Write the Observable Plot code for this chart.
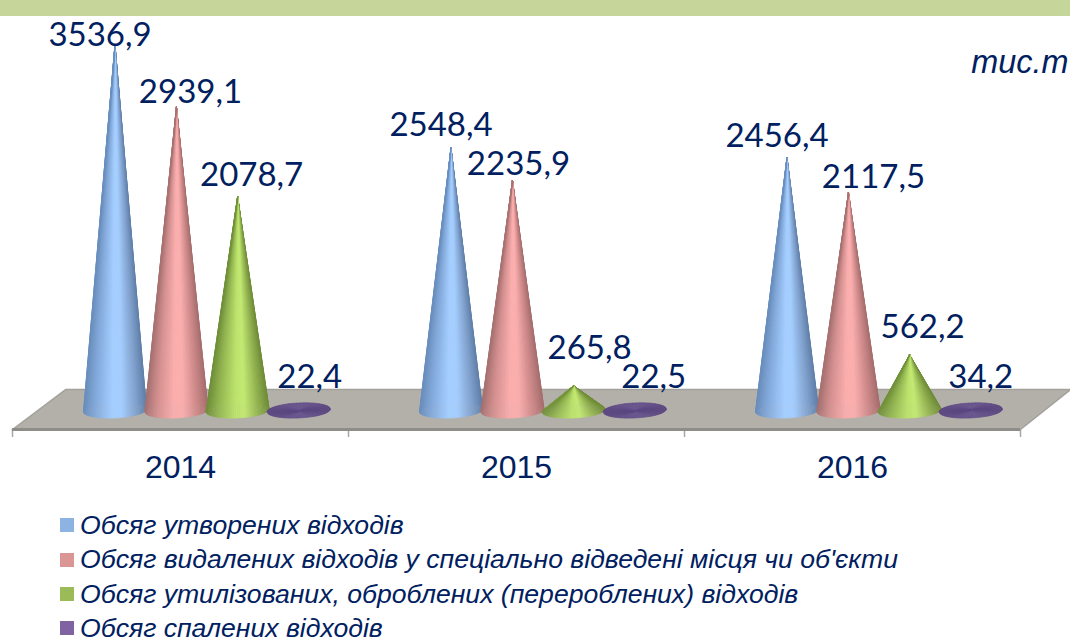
<!DOCTYPE html>
<html lang="uk">
<head>
<meta charset="utf-8">
<script src="https://cdn.jsdelivr.net/npm/d3@7"></script>
<script src="https://cdn.jsdelivr.net/npm/@observablehq/plot@0.6"></script>
<style>
html,body{margin:0;padding:0;background:#fff;width:1070px;height:640px;overflow:hidden;position:relative}
#band{position:absolute;left:0;top:0;width:1070px;height:16px;background:#c6d69a}
#chart{position:relative}
#chart svg{display:block}
#legend{margin:8px 0 0 60px;font:italic 26.6px "Liberation Sans",Arial,sans-serif;color:#002060}
.row{height:34.4px;line-height:34.4px;white-space:nowrap;display:flex;align-items:center}
.sw{width:14px;height:14px;margin-right:6px;flex:none}
</style>
</head>
<body>
<div id="band"></div>
<div id="chart"></div>
<div id="legend"></div>
<script>
const years = ["2014", "2015", "2016"];
const seriesNames = [
  "Обсяг утворених відходів",
  "Обсяг видалених відходів у спеціально відведені місця чи об'єкти",
  "Обсяг утилізованих, оброблених (перероблених) відходів",
  "Обсяг спалених відходів"
];
const generated = [3536.9, 2548.4, 2456.4];
const removed = [2939.1, 2235.9, 2117.5];
const recycled = [2078.7, 265.8, 562.2];
const burned = [22.4, 22.5, 34.2];
const seriesValues = [generated, removed, recycled, burned];
const unitLabel = "тис.т";

// Styling and layout, kept apart from the values
const legendColors = ["#8db3e2", "#d99694", "#9bbb59", "#8064a2"];
const shadeStops = [
  ["#6a8fbd", "#84abdc", "#a5ceff", "#a5ceff", "#7f9fca", "#5f80a9"],
  ["#a87272", "#d49090", "#fbaeae", "#fbaeae", "#c98686", "#a66e6e"],
  ["#71903a", "#94b652", "#bce26c", "#c4ea74", "#8fae4e", "#6f8c38"],
  ["#5b4680", "#5f4a86", "#64508c", "#64508c", "#5f4a86", "#5b4680"]
];
const shadePos = [0, 0.18, 0.45, 0.6, 0.85, 1];
const seriesOffset = [-0.195, -0.012, 0.170, 0.352];
const labelDx = [[-15, 14, 14, 11], [-10, 6, 16, 19], [-10, 25, 13, 10]];
const labelDy = [[-1.5, -6.7, -13.4, -25.7], [-14.5, -8, -29, -25.7], [-13, -7.4, -19, -24.4]];
const baseRx = 0.0938, baseRy = 72, baseTilt = 14, baseY = 29, segments = 48;
const floorFront = -153.5, floorBack = 230, tickEnd = -230, yearLevel = -517;

const cones = [], labels = [];
years.forEach((year, g) => {
  seriesValues.forEach((vals, s) => {
    const cx = g + 0.5 + seriesOffset[s], v = vals[g];
    labels.push({x: cx, y: v, text: v.toFixed(1).replace(".", ","), dx: labelDx[g][s], dy: labelDy[g][s]});
    const ramp = d3.scaleLinear().domain(shadePos).range(shadeStops[s]).interpolate(d3.interpolateRgb);
    const pt = t => ({x: cx + baseRx * Math.cos(t), y: baseY - baseRy * Math.sin(t) + baseTilt * Math.cos(t)});
    // back half of the base first, then the front half
    const idx = [...d3.range(segments, 2 * segments), ...d3.range(0, segments)];
    idx.forEach(i => {
      const a = i / segments * Math.PI, b = (i + 1) / segments * Math.PI;
      const color = ramp((Math.cos((a + b) / 2) + 1) / 2);
      const id = `${g}-${s}-${i}`;
      cones.push({id, color, x: cx, y: v}, {id, color, ...pt(a)}, {id, color, ...pt(b)});
    });
  });
});

const floor = [
  {x: 0, y: floorFront}, {x: 0.158, y: floorBack}, {x: 3.149, y: floorBack}, {x: 3, y: floorFront}
];
const floorBackEdge = floor.slice(0, 3);
const floorRightEdge = floor.slice(2, 4);
const tickPositions = d3.range(years.length + 1);

const plot = Plot.plot({
  width: 1070, height: 500,
  marginTop: 0, marginRight: 0, marginBottom: 0, marginLeft: 0,
  style: {background: "transparent"},
  x: {domain: [0, 3], range: [12, 1020], axis: null},
  y: {domain: [-835, 3810], range: [500, 16], axis: null},
  color: {type: "identity"},
  marks: [
    Plot.line(floor, {x: "x", y: "y", fill: "#b3b0a9", stroke: "none", curve: "linear"}),
    Plot.line(floorBackEdge, {x: "x", y: "y", stroke: "#a3a19b", strokeWidth: 1.5}),
    Plot.line(floorRightEdge, {x: "x", y: "y", stroke: "#a3a19b", strokeWidth: 1.5}),
    Plot.ruleX(tickPositions, {x: d => d, y1: floorFront, y2: tickEnd, stroke: "#a6a6a6", strokeWidth: 1.5}),
    Plot.ruleY([floorFront], {x1: 0, x2: 3, stroke: "#8f8d87", strokeWidth: 3}),
    Plot.line(cones, {x: "x", y: "y", z: "id", fill: "color", stroke: "color", strokeWidth: 0.6, curve: "linear"}),
    ...labels.map(d => Plot.text([d], {
      x: "x", y: "y", text: "text", dx: d.dx, dy: d.dy - 8.4,
      fontFamily: "Lato, sans-serif", fontSize: 33, fill: "#002060", textAnchor: "middle"
    })),
    Plot.text(years, {
      x: (d, i) => i + 0.5, y: () => yearLevel, text: d => d,
      fontFamily: "'Liberation Sans', Arial, sans-serif", fontSize: 32, fill: "#002060", textAnchor: "middle"
    }),
    Plot.text([unitLabel], {
      frameAnchor: "top-right", dx: -2, dy: 49, text: d => d,
      fontFamily: "'Liberation Sans', Arial, sans-serif", fontStyle: "italic", fontSize: 32.4, fill: "#002060"
    })
  ]
});
document.getElementById("chart").append(plot);

const legend = document.getElementById("legend");
seriesNames.forEach((name, i) => {
  const row = document.createElement("div");
  row.className = "row";
  const sw = document.createElement("span");
  sw.className = "sw";
  sw.style.background = legendColors[i];
  const label = document.createElement("span");
  label.textContent = name;
  row.append(sw, label);
  legend.append(row);
});
</script>
</body>
</html>
